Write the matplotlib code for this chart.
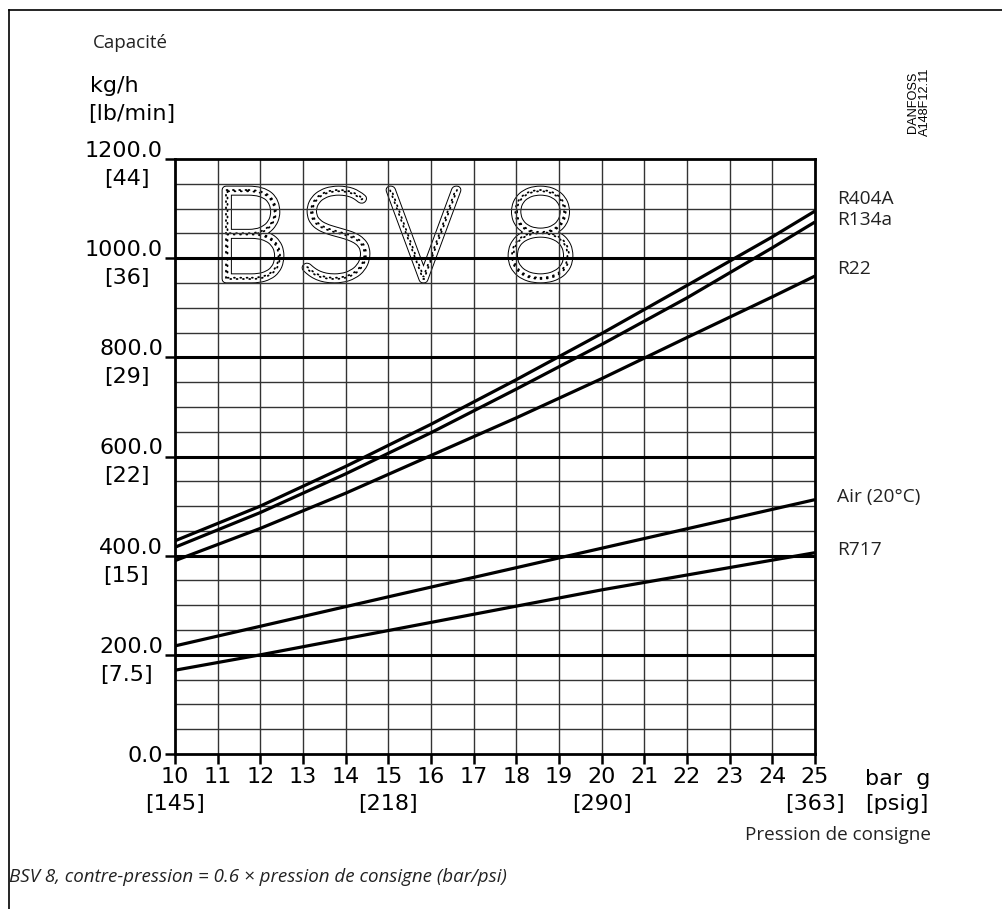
import matplotlib

matplotlib.use("Agg")
import matplotlib.pyplot as plt
import matplotlib.patheffects as pe
from matplotlib.lines import Line2D
from matplotlib.patches import PathPatch
from matplotlib.textpath import TextPath
from matplotlib.font_manager import FontProperties
from matplotlib.transforms import Affine2D


# ==================== Data ====================
PRESSURE_BAR = [10, 12, 14, 16, 18, 20, 22, 24, 25]
R404A = [430, 500, 580, 665, 755, 848, 945, 1043, 1095]
R134A = [417, 487, 565, 648, 736, 826, 920, 1021, 1073]
R22 = [390, 455, 526, 602, 678, 757, 840, 922, 964]
AIR_X = [10, 15, 20, 25]
AIR = [218, 317, 415, 513]
R717_X = [10, 12, 15, 20, 25]
R717 = [169, 200, 249, 331, 406]

X_TICKS = list(range(10, 26))
PSI_TICKS = [10, 15, 20, 25]
PSI_LABELS = ["[145]", "[218]", "[290]", "[363]"]
Y_TICKS = [0, 200, 400, 600, 800, 1000, 1200]
Y_LABELS = ["0.0", "200.0", "400.0", "600.0", "800.0", "1000.0", "1200.0"]
LB_LABELS = ["", "[7.5]", "[15]", "[22]", "[29]", "[36]", "[44]"]

SERIES = [
    ("R404A", PRESSURE_BAR, R404A, 199),
    ("R134a", PRESSURE_BAR, R134A, 220),
    ("R22", PRESSURE_BAR, R22, 269),
    ("Air (20°C)", AIR_X, AIR, 497),
    ("R717", R717_X, R717, 550),
]
# ===============================================

W, H = 1003, 909
TECH = "DejaVu Sans"
HUMAN = "Open Sans"
TEXT_GREY = "#222222"


def fx(px):
    return px / W


def fy(py):
    return 1 - py / H


def big_letters(ax):
    # outlined, dotted "BSV 8" drawn inside the grid, fitted to pixel boxes.
    # a thin glyph is used as centre line: black stroke, white core, dotted middle
    boxes = [("B", 226, 280), ("S", 306, 366), ("V", 390, 457), ("8", 512, 569)]
    top, bottom = 190, 279
    x0p, x1p, y0p, y1p = 175, 815, 754, 159
    prop = FontProperties(family="Lato", weight="light")
    for ch, left, right in boxes:
        path = TextPath((0, 0), ch, size=100, prop=prop)
        ext = path.get_extents()
        ax_l = (left - x0p) / (x1p - x0p)
        ax_r = (right - x0p) / (x1p - x0p)
        ax_b = (y0p - bottom) / (y0p - y1p)
        ax_t = (y0p - top) / (y0p - y1p)
        tr = (
            Affine2D()
            .translate(-ext.x0, -ext.y0)
            .scale((ax_r - ax_l) / ext.width, (ax_t - ax_b) / ext.height)
            .translate(ax_l, ax_b)
        )
        letter = tr.transform_path(path)
        ax.add_patch(PathPatch(
            letter, transform=ax.transAxes, facecolor="none", edgecolor="white",
            linewidth=4.9, joinstyle="round", capstyle="round", zorder=0.2,
            path_effects=[pe.Stroke(linewidth=6.3, foreground="black"), pe.Normal()],
        ))
        ax.add_patch(PathPatch(
            letter, transform=ax.transAxes, facecolor="none", edgecolor="black",
            linewidth=1.3, linestyle=(0, (0.5, 3.0)), capstyle="round", zorder=0.3,
        ))


def main():
    fig = plt.figure(figsize=(W / 100, H / 100), dpi=100)
    ax = fig.add_axes([fx(175), fy(754), fx(815) - fx(175), fy(159) - fy(754)])

    ax.set_xlim(10, 25)
    ax.set_ylim(0, 1200)

    # grid: thin lines each bar and every 50 kg/h, thick every 200 kg/h
    for x in X_TICKS[1:-1]:
        ax.axvline(x, color="#333333", linewidth=1.0, zorder=0.5)
    for y in range(50, 1200, 50):
        major = y % 200 == 0
        ax.axhline(y, color="black" if major else "#333333",
                   linewidth=2.2 if major else 1.0, zorder=0.5)

    big_letters(ax)

    for name, xs, ys, _ in SERIES:
        ax.plot(xs, ys, color="black", linewidth=2.3, zorder=3, solid_capstyle="butt")

    for side in ax.spines.values():
        side.set_linewidth(2.0)

    ax.set_xticks(X_TICKS)
    ax.set_xticklabels([str(v) for v in X_TICKS], fontsize=16, family=TECH)
    ax.tick_params(axis="x", direction="out", length=7.2, width=1.8, pad=2.5)
    ax.set_yticks(Y_TICKS)
    ax.set_yticklabels([])
    ax.tick_params(axis="y", direction="out", length=7.2, width=1.8)

    for val, lab in zip(PSI_TICKS, PSI_LABELS):
        ax.annotate(lab, (val, 0), xycoords=("data", "axes fraction"),
                    xytext=(0, -40.5), textcoords="offset points",
                    ha="center", va="baseline", fontsize=16, family=TECH)

    for val, lab, lb in zip(Y_TICKS, Y_LABELS, LB_LABELS):
        dy = -5.8 if val == 0 else 1.5
        ax.annotate(lab, (0, val), xycoords=("axes fraction", "data"),
                    xytext=(-8.6, dy), textcoords="offset points",
                    ha="right", va="baseline", fontsize=16, family=TECH)
        if lb:
            ax.annotate(lb, (0, val), xycoords=("axes fraction", "data"),
                        xytext=(-35, -18.7), textcoords="offset points",
                        ha="center", va="baseline", fontsize=16, family=TECH)

    # series names right of the plot
    for name, _, _, ypx in SERIES:
        fig.text(fx(837), fy(ypx), name, fontsize=13.8, family=HUMAN,
                 ha="left", va="center", color=TEXT_GREY)

    # axis titles and units
    fig.text(fx(93), fy(43), "Capacité", fontsize=13.5, family=HUMAN,
             ha="left", va="center", color=TEXT_GREY)
    fig.text(fx(90), fy(92), "kg/h", fontsize=16, family=TECH, ha="left", va="baseline")
    fig.text(fx(88), fy(120), "[lb/min]", fontsize=16, family=TECH, ha="left", va="baseline")
    fig.text(fx(865), fy(785), "bar  g", fontsize=16, family=TECH, ha="left", va="baseline")
    fig.text(fx(865), fy(810), "[psig]", fontsize=16, family=TECH, ha="left", va="baseline")
    fig.text(fx(931), fy(835), "Pression de consigne", fontsize=13.6, family=HUMAN,
             ha="right", va="center", color=TEXT_GREY)
    fig.text(fx(919), fy(102), "DANFOSS\nA148F12.11", fontsize=9.2,
             family="Liberation Sans", rotation=90, ha="center", va="center",
             linespacing=0.95)
    fig.text(fx(9), fy(877), "BSV 8, contre-pression = 0.6 × pression de consigne (bar/psi)",
             fontsize=13.5, family=HUMAN, style="italic", ha="left", va="center",
             color=TEXT_GREY)

    # outer frame
    fig.add_artist(Line2D([fx(9), fx(9)], [0, fy(10)], color="black", linewidth=1.2))
    fig.add_artist(Line2D([fx(9), 1], [fy(10), fy(10)], color="black", linewidth=1.2))

    fig.savefig("out.png", dpi=100)
    plt.close(fig)


if __name__ == "__main__":
    main()
